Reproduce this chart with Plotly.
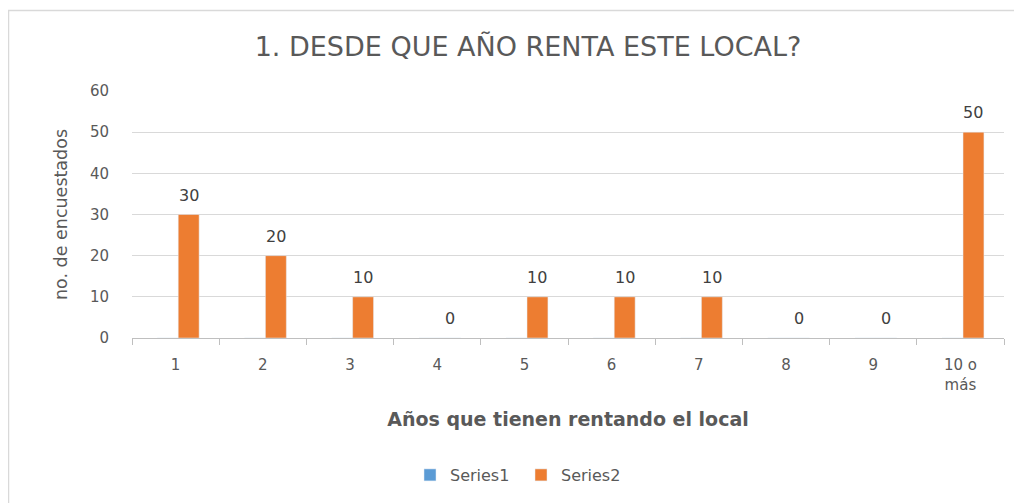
import plotly.graph_objects as go

categories = ["1", "2", "3", "4", "5", "6", "7", "8", "9", "10 o<br>más"]
series1 = [0, 0, 0, 0, 0, 0, 0, 0, 0, 0]
series2 = [30, 20, 10, 0, 10, 10, 10, 0, 0, 50]

# page has an 8px body margin; figure coords = page coords - 8
W, H = 1014, 495
L, R, T, B = 124, 18, 83, 165
pw, ph = W - L - R, H - T - B
FONT = "DejaVu Sans"

fig = go.Figure()
fig.add_trace(go.Bar(x=categories, y=series1, name="Series1", marker_color="#5B9BD5",
                     width=0.24, offset=-0.21))
fig.add_trace(go.Bar(x=categories, y=series2, name="Series2", marker_color="#ED7D31",
                     width=0.24, offset=0.03))

# data labels for Series2
for i, v in enumerate(series2):
    fig.add_annotation(x=i, y=v, xref="x", yref="y", text=str(v), showarrow=False,
                       xshift=13, yshift=8, yanchor="bottom",
                       font=dict(family=FONT, size=16, color="#404040"))

# outer chart border
fig.add_shape(type="rect", xref="paper", yref="paper",
              x0=(0.5 - L) / pw, x1=1.2, y0=-1, y1=(H - B - 2.5) / ph,
              line=dict(color="#D9D9D9", width=1.5), fillcolor="rgba(0,0,0,0)", layer="below")

fig.update_layout(
    width=W, height=H,
    margin=dict(l=L, r=R, t=T, b=B),
    paper_bgcolor="white", plot_bgcolor="white",
    barmode="overlay",
    title=dict(text="1. DESDE QUE AÑO RENTA ESTE LOCAL?", x=520 / W, xanchor="center",
               y=1 - 39 / H, yanchor="middle",
               font=dict(family=FONT, size=27, color="#595959")),
    legend=dict(orientation="h", x=402 / W, xref="container", xanchor="left",
                y=1 - 467 / H, yref="container",
                yanchor="middle", font=dict(family=FONT, size=16, color="#595959"),
                itemwidth=30, entrywidth=66, entrywidthmode="pixels", traceorder="normal"),
    font=dict(family=FONT, color="#595959"),
)
fig.update_xaxes(
    type="category", showgrid=False, showline=True, linecolor="#BFBFBF", linewidth=1,
    ticks="outside", tickson="boundaries", ticklen=6, tickcolor="#BFBFBF",
    ticklabelstandoff=13,
    tickfont=dict(family=FONT, size=15, color="#595959"),
    title=dict(text="Años que tienen rentando el local", standoff=20,
               font=dict(family=FONT, size=19, color="#595959", weight="bold")),
)
fig.update_yaxes(
    range=[0, 60], dtick=10, showgrid=True, gridcolor="#D9D9D9", gridwidth=1,
    zeroline=False, showline=False, ticks="", ticklabelstandoff=22,
    tickfont=dict(family=FONT, size=15, color="#595959"),
    title=dict(text="no. de encuestados", standoff=17,
               font=dict(family=FONT, size=17.5, color="#595959")),
)

fig.write_html("out.html")
